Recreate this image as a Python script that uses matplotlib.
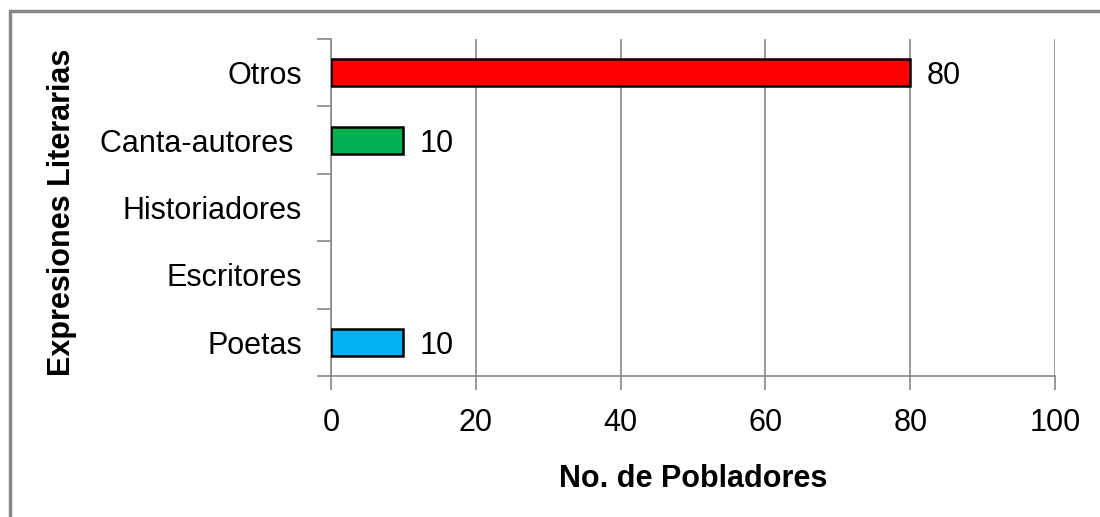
import matplotlib.pyplot as plt
from matplotlib.patches import Rectangle

plt.rcParams['font.family'] = ['Liberation Sans', 'DejaVu Sans']

categorias = ["Poetas", "Escritores", "Historiadores", "Canta-autores ", "Otros"]
pobladores = [10, 0, 0, 10, 80]
colores = ["#00B0F0", "#00B050", "#00B050", "#00B050", "#FF0000"]

W, H = 1100, 517
fig = plt.figure(figsize=(W / 100, H / 100), dpi=100)
ax = fig.add_axes([331 / W, 1 - 376 / H, (1055 - 331) / W, (376 - 39) / H])

# marco exterior (solo se ven izquierda y arriba)
fig.patches.append(Rectangle((10 / W, -0.1), 1.2, 1 - 11 / H + 0.1,
                             transform=fig.transFigure, fill=False,
                             edgecolor="#888888", linewidth=2.5))

pos = list(range(len(categorias)))
for p, v, c in zip(pos, pobladores, colores):
    if v > 0:
        ax.barh(p, v, height=0.4, color=c, edgecolor="black", linewidth=1.8, zorder=3)
        ax.text(v + 2.3, p, str(v), va="center_baseline", ha="left", fontsize=22,
                color="black")

ax.set_xlim(0, 100)
ax.set_ylim(-0.5, len(categorias) - 0.5)
ax.set_xticks(range(0, 101, 20))
ax.set_yticks(pos)
ax.set_yticklabels(categorias)
ax.set_yticks([p - 0.5 for p in pos] + [len(pos) - 0.5], minor=True)
ax.tick_params(axis="y", which="major", length=0, pad=21, labelsize=22)
ax.tick_params(axis="y", which="minor", length=10, color="#888888", width=1.2)
ax.tick_params(axis="x", length=10, color="#888888", width=1.2, pad=13, labelsize=22)

ax.grid(axis="x", color="#888888", linewidth=1.2, zorder=0)
for s in ["top", "right"]:
    ax.spines[s].set_visible(False)
for s in ["left", "bottom"]:
    ax.spines[s].set_color("#888888")
    ax.spines[s].set_linewidth(1.2)

fig.text(693 / W, 1 - 487 / H, "No. de Pobladores", fontsize=22,
         fontweight="bold", ha="center", va="baseline")
fig.text(62 / W, 1 - 212 / H, "Expresiones Literarias", rotation=90, fontsize=22,
         fontweight="bold", ha="center", va="center")

fig.savefig("out.png", dpi=100)
